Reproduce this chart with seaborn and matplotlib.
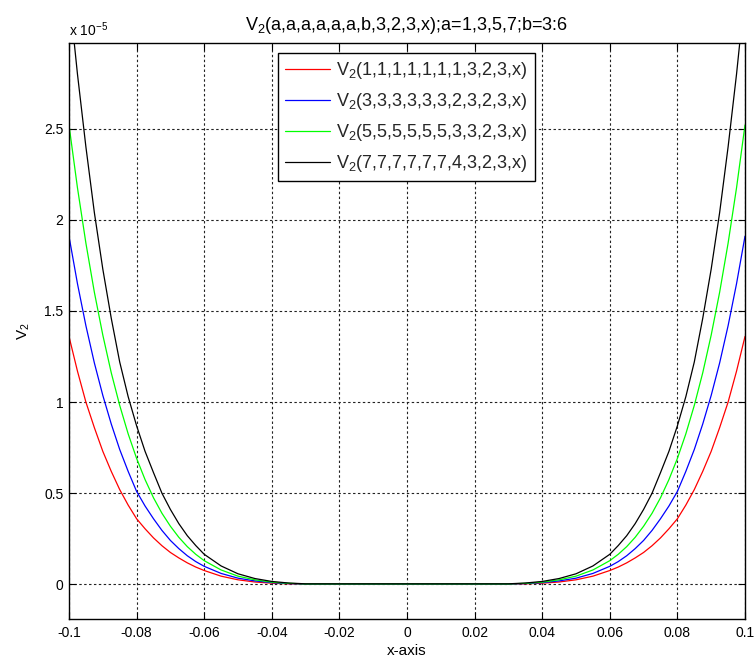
import matplotlib
matplotlib.use("Agg")
import matplotlib.pyplot as plt
import seaborn as sns
import pandas as pd
from matplotlib.ticker import FuncFormatter

# x positions where the four curves are sampled (outside |x| < 0.03 the function is non-zero)
x_right = [0.030, 0.035, 0.040, 0.045, 0.050, 0.055, 0.060, 0.0625,
           0.065, 0.0675, 0.070, 0.0725, 0.075, 0.0775, 0.080, 0.0825,
           0.085, 0.0875, 0.090, 0.0925, 0.095, 0.0975, 0.100]
x_left = [-0.100, -0.0975, -0.095, -0.0925, -0.090, -0.0875, -0.085, -0.0825,
          -0.080, -0.0775, -0.075, -0.0725, -0.070, -0.0675, -0.065, -0.0625,
          -0.060, -0.055, -0.050, -0.045, -0.040, -0.035, -0.030]

# V2 values in units of 1e-5, listed in the order of x_right (left branch mirrors it)
red_right = [0.0012, 0.003, 0.0065, 0.013, 0.025, 0.045, 0.076, 0.095,
             0.118, 0.145, 0.175, 0.212, 0.255, 0.305, 0.36, 0.435,
             0.52, 0.62, 0.73, 0.86, 1.00, 1.17, 1.36]
blue_right = [0.0018, 0.0043, 0.0094, 0.019, 0.034, 0.060, 0.099, 0.125,
              0.157, 0.196, 0.241, 0.296, 0.36, 0.43, 0.51, 0.62,
              0.74, 0.88, 1.037, 1.215, 1.419, 1.65, 1.91]
green_right = [0.0023, 0.0057, 0.012, 0.025, 0.045, 0.079, 0.130, 0.165,
               0.207, 0.258, 0.319, 0.39, 0.475, 0.575, 0.691, 0.826,
               0.982, 1.161, 1.368, 1.603, 1.872, 2.176, 2.52]
black_right = [0.003, 0.0074, 0.016, 0.032, 0.058, 0.101, 0.165, 0.213,
               0.267, 0.333, 0.411, 0.50, 0.613, 0.73, 0.87, 1.03,
               1.22, 1.46, 1.73, 2.04, 2.40, 2.80, 3.25]

labels = ["V$_2$(1,1,1,1,1,1,1,3,2,3,x)",
          "V$_2$(3,3,3,3,3,3,2,3,2,3,x)",
          "V$_2$(5,5,5,5,5,5,3,3,2,3,x)",
          "V$_2$(7,7,7,7,7,7,4,3,2,3,x)"]
colors = ["#ff0000", "#0000ff", "#00ff00", "#000000"]
series = [red_right, blue_right, green_right, black_right]

x_ticks = [-0.1, -0.08, -0.06, -0.04, -0.02, 0, 0.02, 0.04, 0.06, 0.08, 0.1]
y_ticks = [0, 0.5, 1, 1.5, 2, 2.5]

sns.set_theme(style="white")
plt.rcParams["font.family"] = ["Liberation Sans", "DejaVu Sans"]
plt.rcParams["mathtext.fontset"] = "custom"
plt.rcParams["mathtext.rm"] = "Liberation Sans"
plt.rcParams["mathtext.default"] = "regular"

fig = plt.figure(figsize=(7.56, 6.61), dpi=100)
ax = fig.add_axes([69 / 756, 1 - 619 / 661, (745 - 69) / 756, (619 - 43) / 661])

for right, color, label in zip(series, colors, labels):
    df = pd.DataFrame({"x": x_left + x_right, "v": right[::-1] + right})
    sns.lineplot(data=df, x="x", y="v", color=color, linewidth=0.9,
                 label=label, ax=ax, errorbar=None)

ax.set_xlim(-0.1, 0.1)
ax.set_ylim(-0.19, 2.97)
ax.set_xticks(x_ticks)
ax.set_yticks(y_ticks)
ax.xaxis.set_major_formatter(FuncFormatter(lambda v, p: f"{v:g}"))
ax.yaxis.set_major_formatter(FuncFormatter(lambda v, p: f"{v:g}"))

ax.grid(True, color="#222222", linestyle=(0, (2.2, 2.2)), linewidth=0.8)
ax.tick_params(axis="both", direction="in", length=5, width=0.8, color="black",
               labelsize=10, labelcolor="black", top=True, right=True,
               bottom=True, left=True)
ax.tick_params(axis="x", pad=5)
ax.tick_params(axis="y", pad=4)
for spine in ax.spines.values():
    spine.set_color("black")
    spine.set_linewidth(1.0)

ax.set_xlabel("x-axis", fontsize=11, labelpad=3, color="black")
ax.set_ylabel("V$_2$", fontsize=11, labelpad=9, color="black")
ax.set_title("V$_2$(a,a,a,a,a,a,b,3,2,3,x);a=1,3,5,7;b=3:6",
             fontsize=13, pad=9, color="black")
ax.annotate("x 10$^{-5}$", xy=(0, 1), xycoords="axes fraction",
            xytext=(0, 3), textcoords="offset points", ha="left", va="bottom",
            fontsize=10, color="black")

leg = ax.legend(loc="upper left", bbox_to_anchor=((278 - 69) / 676, (619 - 53) / 576),
                fontsize=13, frameon=True, fancybox=False, framealpha=1,
                edgecolor="black", handlelength=2.5, handletextpad=0.3,
                borderpad=0.4, labelspacing=0.55, borderaxespad=0)
leg.get_frame().set_linewidth(1.0)

fig.savefig("out.png", dpi=100, facecolor="white")
